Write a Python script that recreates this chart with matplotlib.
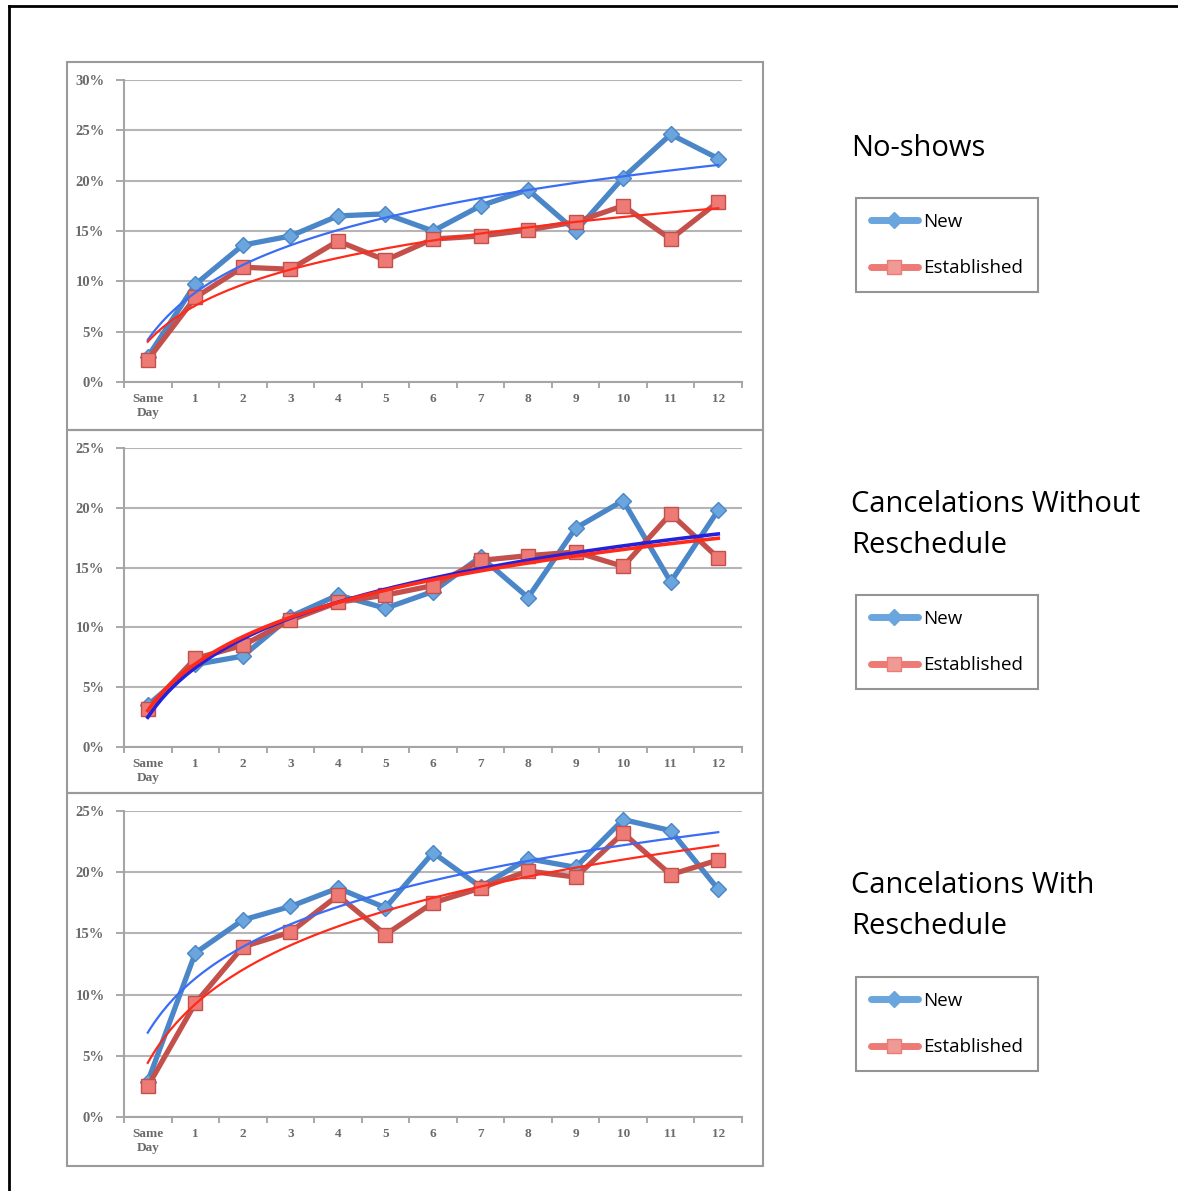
import numpy as np
import matplotlib
matplotlib.use('Agg')
import matplotlib.pyplot as plt
from matplotlib.lines import Line2D
from matplotlib.patches import Rectangle

categories = ['Same\nDay', '1', '2', '3', '4', '5', '6', '7', '8', '9', '10', '11', '12']

# values in percent
noshow_new = [2.5, 9.7, 13.6, 14.5, 16.5, 16.7, 15.0, 17.5, 19.1, 15.0, 20.3, 24.6, 22.2]
noshow_est = [2.2, 8.4, 11.4, 11.2, 14.0, 12.1, 14.2, 14.5, 15.1, 15.9, 17.5, 14.2, 17.9]

cancel_new = [3.5, 6.9, 7.6, 10.9, 12.7, 11.6, 13.0, 15.9, 12.5, 18.3, 20.6, 13.8, 19.8]
cancel_est = [3.2, 7.4, 8.5, 10.6, 12.1, 12.7, 13.5, 15.6, 16.0, 16.3, 15.1, 19.5, 15.8]

resched_new = [2.9, 13.4, 16.1, 17.2, 18.7, 17.1, 21.6, 18.8, 21.1, 20.4, 24.3, 23.4, 18.6]
resched_est = [2.5, 9.3, 13.9, 15.1, 18.1, 14.9, 17.5, 18.7, 20.1, 19.6, 23.2, 19.8, 21.0]

titles = ['No-shows', 'Cancelations Without\nReschedule', 'Cancelations With\nReschedule']
ymaxes = [30, 25, 25]
series = [(noshow_new, noshow_est), (cancel_new, cancel_est), (resched_new, resched_est)]

W, H = 1178, 1191
fig = plt.figure(figsize=(W/100, H/100), dpi=100)

def fx(px): return px / W
def fy(py): return 1 - py / H

# outer frame (left + top)
fig.add_artist(Line2D([fx(9), fx(9)], [fy(6), 0], color='black', lw=2))
fig.add_artist(Line2D([fx(9), 1], [fy(6), fy(6)], color='black', lw=2))

# panel boxes (pixel tops/bottoms)
panels = [(62, 430), (430, 793), (793, 1166)]
for top, bot in panels:
    fig.add_artist(Rectangle((fx(67), fy(bot)), fx(763) - fx(67), fy(top) - fy(bot),
                             fill=False, edgecolor='#9a9a9a', lw=1.5))

# axes areas: (top px, bottom px)
axes_px = [(80, 382), (448, 747), (811, 1117)]
title_y = [148, 525, 906]
legend_top = [198, 595, 977]

blue_line = '#4a86c8'
blue_mk = '#6aa5dd'
red_line = '#c4504c'
red_mk = '#ee7a76'
trend_blue = ['#3a6cf5', '#2222dd', '#3a6cf5']
trend_red = ['#ff2a1a', '#ff2a1a', '#ff2a1a']
trend_lw = [1.6, 2.6, 1.6]

x = np.arange(len(categories))
lx = np.log(x + 1)
xf = np.linspace(0, len(categories) - 1, 200)

serif = 'Liberation Serif'
sans = 'Open Sans'

for i, (top, bot) in enumerate(axes_px):
    ax = fig.add_axes([fx(124), fy(bot), fx(742) - fx(124), fy(top) - fy(bot)])
    new, est = series[i]
    ax.plot(x, new, color=blue_line, lw=3.8, marker='D', ms=8.5,
            mfc=blue_mk, mec=blue_line, mew=1, zorder=3)
    ax.plot(x, est, color=red_line, lw=3.8, marker='s', ms=10,
            mfc=red_mk, mec=red_line, mew=1, zorder=3)
    # logarithmic trendlines
    a, b = np.polyfit(lx, new, 1)
    ax.plot(xf, a * np.log(xf + 1) + b, color=trend_blue[i], lw=trend_lw[i], zorder=4)
    a, b = np.polyfit(lx, est, 1)
    ax.plot(xf, a * np.log(xf + 1) + b, color=trend_red[i], lw=trend_lw[i], zorder=4)

    ax.set_xlim(-0.5, len(categories) - 0.5)
    ax.set_ylim(0, ymaxes[i])
    ax.set_yticks(np.arange(0, ymaxes[i] + 1, 5))
    ax.set_yticklabels([f'{v}%' for v in range(0, ymaxes[i] + 1, 5)])
    ax.set_xticks(x)
    ax.set_xticklabels(categories)
    ax.set_xticks(np.arange(-0.5, len(categories), 1), minor=True)
    ax.tick_params(axis='x', which='major', length=0, pad=8)
    ax.tick_params(axis='x', which='minor', length=4, color='#9a9a9a', width=1.2, direction='out')
    ax.tick_params(axis='y', length=6, color='#9a9a9a', width=1.2, direction='out', pad=8)
    for lab in ax.get_xticklabels():
        lab.set_fontsize(9.5)
    for lab in ax.get_yticklabels():
        lab.set_fontsize(10.5)
    for lab in ax.get_xticklabels() + ax.get_yticklabels():
        lab.set_fontfamily(serif)
        lab.set_fontweight('bold')
        lab.set_color('#6a6a6a')
        lab.set_linespacing(1.2)
    ax.grid(axis='y', color='#b5b5b5', lw=1.5)
    ax.set_axisbelow(True)
    for s in ['top', 'right']:
        ax.spines[s].set_visible(False)
    for s in ['left', 'bottom']:
        ax.spines[s].set_color('#a5a5a5')
        ax.spines[s].set_linewidth(1.5)

    fig.text(fx(851), fy(title_y[i]), titles[i], fontsize=21, family=sans,
             va='center', ha='left', linespacing=1.52, color='#000000')

    h1 = Line2D([], [], color=blue_mk, lw=5, marker='D', ms=8, mfc=blue_mk, mec=blue_mk,
                solid_capstyle='round')
    h2 = Line2D([], [], color=red_mk, lw=5, marker='s', ms=10, mfc='#f09a96', mec=red_mk,
                solid_capstyle='round')
    leg = fig.legend([h1, h2], ['New', 'Established'], loc='upper left',
                     bbox_to_anchor=(fx(856), fy(legend_top[i])), borderaxespad=0,
                     frameon=True, fancybox=False, edgecolor='#7a7a7a', handlelength=2.5,
                     handletextpad=0.3, labelspacing=1.5, borderpad=0.8,
                     prop={'family': sans, 'size': 13.5}, shadow=False)
    leg.get_frame().set_linewidth(1.5)

fig.savefig('out.png', dpi=100, facecolor='white')
